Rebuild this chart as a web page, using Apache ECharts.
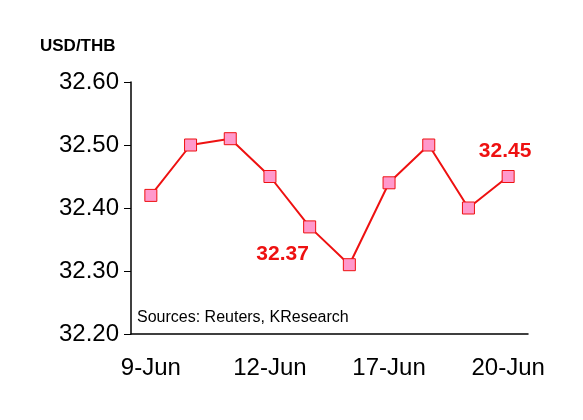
<!DOCTYPE html>
<html>
<head>
<meta charset="utf-8">
<script src="https://cdn.jsdelivr.net/npm/echarts@6/dist/echarts.min.js"></script>
<style>html,body{margin:0;padding:0;background:#fff}#chart{width:583px;height:420px}</style>
</head>
<body>
<div id="chart"></div>
<script>
// 汇率数据
const categories = ['9-Jun', '10-Jun', '11-Jun', '12-Jun', '13-Jun', '16-Jun', '17-Jun', '18-Jun', '19-Jun', '20-Jun']
const rates = [32.42, 32.50, 32.51, 32.45, 32.37, 32.31, 32.44, 32.50, 32.40, 32.45]
const shownLabels = { 4: [-27, 49], 9: [-3, -3] }

const chart = echarts.init(document.getElementById('chart'))
const font = 'Liberation Sans, Arial, sans-serif'

const seriesData = rates.map((v, i) => {
  if (!shownLabels[i]) return v
  return {
    value: v,
    label: {
      show: true,
      offset: shownLabels[i],
      formatter: p => p.value.toFixed(2),
      color: '#ee1111',
      fontWeight: 'bold',
      fontSize: 21,
      fontFamily: font
    }
  }
})

chart.setOption({
  animation: false,
  grid: { left: 131, right: 55, top: 82, bottom: 86 },
  graphic: [
    { type: 'text', left: 40, top: 38, style: { text: 'USD/THB', font: 'bold 17px ' + font, fill: '#000' } },
    { type: 'text', left: 137, top: 310, style: { text: 'Sources: Reuters, KResearch', font: '16px ' + font, fill: '#000' } }
  ],
  xAxis: {
    type: 'category',
    data: categories,
    boundaryGap: true,
    axisLine: { lineStyle: { color: '#000', width: 1.5 } },
    axisTick: { interval: i => i % 4 === 0, length: 6, lineStyle: { color: '#000' } },
    axisLabel: { interval: i => i % 3 === 0, color: '#000', fontSize: 24, fontFamily: font, margin: 22 }
  },
  yAxis: {
    type: 'value',
    min: 32.2,
    max: 32.6,
    interval: 0.1,
    axisLine: { show: true, lineStyle: { color: '#000', width: 1.5 } },
    axisTick: { show: true, inside: false, length: 7, lineStyle: { color: '#000' } },
    splitLine: { show: false },
    axisLabel: { formatter: v => v.toFixed(2), color: '#000', fontSize: 24, fontFamily: font, margin: 12 }
  },
  series: [{
    type: 'line',
    data: seriesData,
    symbol: 'rect',
    symbolSize: 12,
    lineStyle: { color: '#ee1111', width: 2 },
    itemStyle: { color: '#ff99cc', borderColor: '#ee1111', borderWidth: 1 },
    label: { show: false }
  }]
})
</script>
</body>
</html>
